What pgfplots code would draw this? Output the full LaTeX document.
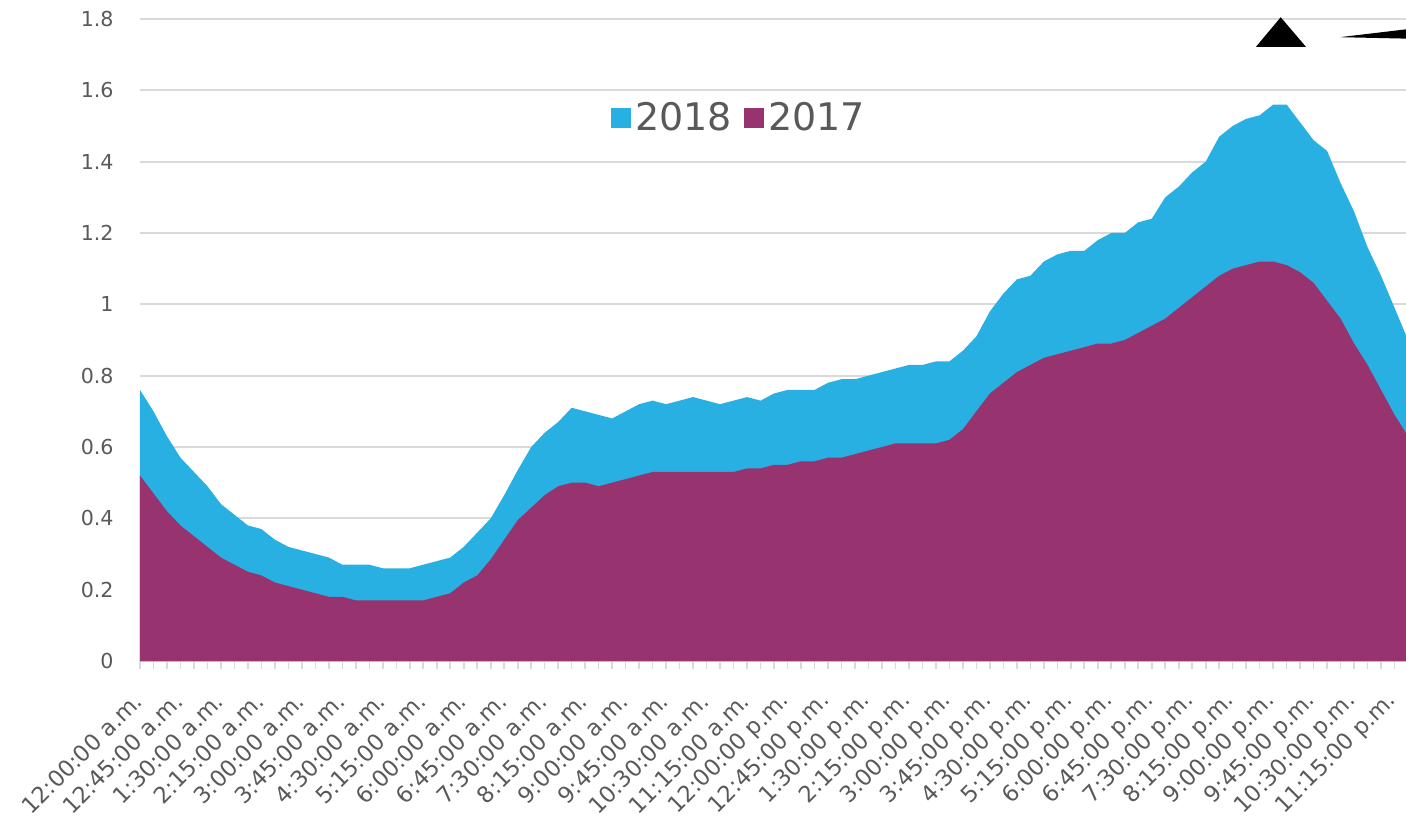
\documentclass[border=0pt]{standalone}
\usepackage{pgfplots}
\pgfplotsset{compat=1.18}
\usepackage{fontspec}
\setmainfont{DejaVu Sans}
\definecolor{cblue}{HTML}{29B0E2}
\definecolor{cpurple}{HTML}{97336E}
\definecolor{cgrid}{HTML}{D9D9D9}
\definecolor{ctext}{HTML}{595959}
\begin{document}
\begin{tikzpicture}
\begin{axis}[
  at={(0,0)}, anchor=south west,
  scale only axis, width=633pt, height=321pt,
  xmin=0, xmax=93.85, ymin=0, ymax=1.8,
  clip mode=individual,
  axis x line*=bottom, axis y line*=left,
  x axis line style={cgrid, line width=1pt},
  y axis line style={draw=none},
  ytick={0,0.2,0.4,0.6,0.8,1,1.2,1.4,1.6,1.8},
  ytick style={draw=none},
  ymajorgrids, grid style={cgrid, line width=1pt},
  /pgf/number format/assume math mode=true,
  yticklabel style={font=\fontsize{10.3}{12}\selectfont, text=ctext, anchor=east, inner sep=0pt, xshift=-9pt},
  xtick={0,3,...,93},
  minor xtick={0,1,...,93},
  tick align=outside,
  major tick length=4pt, minor tick length=4pt,
  xtick style={cgrid, line width=0.8pt},
  minor tick style={cgrid, line width=0.8pt},
  xticklabels={{12:00:00 a.m.},{12:45:00 a.m.},{1:30:00 a.m.},{2:15:00 a.m.},{3:00:00 a.m.},{3:45:00 a.m.},{4:30:00 a.m.},{5:15:00 a.m.},{6:00:00 a.m.},{6:45:00 a.m.},{7:30:00 a.m.},{8:15:00 a.m.},{9:00:00 a.m.},{9:45:00 a.m.},{10:30:00 a.m.},{11:15:00 a.m.},{12:00:00 p.m.},{12:45:00 p.m.},{1:30:00 p.m.},{2:15:00 p.m.},{3:00:00 p.m.},{3:45:00 p.m.},{4:30:00 p.m.},{5:15:00 p.m.},{6:00:00 p.m.},{6:45:00 p.m.},{7:30:00 p.m.},{8:15:00 p.m.},{9:00:00 p.m.},{9:45:00 p.m.},{10:30:00 p.m.},{11:15:00 p.m.}},
  xticklabel style={xshift=-0.8pt, yshift=-14pt, rotate=45, anchor=east, inner sep=0pt, font=\fontsize{11.3}{13}\selectfont, text=ctext},
  legend style={at={(0.474,0.846)}, anchor=center, draw=none, fill=none,
    font=\fontsize{19}{22}\selectfont, text=ctext, legend columns=2,
    /tikz/every even column/.append style={column sep=4pt},
    nodes={inner sep=2pt}},
  legend image code/.code={\fill[#1] (-2pt,-5pt) rectangle (8pt,5pt);},
]
\addplot[fill=cblue, draw=none] coordinates {
(0,0.76)(1,0.70)(2,0.63)(3,0.57)(4,0.53)(5,0.49)(6,0.44)(7,0.41)(8,0.38)(9,0.37)
(10,0.34)(11,0.32)(12,0.31)(13,0.30)(14,0.29)(15,0.27)(16,0.27)(17,0.27)(18,0.26)(19,0.26)
(20,0.26)(21,0.27)(22,0.28)(23,0.29)(24,0.32)(25,0.36)(26,0.40)(27,0.465)(28,0.535)(29,0.60)
(30,0.64)(31,0.67)(32,0.71)(33,0.70)(34,0.69)(35,0.68)(36,0.70)(37,0.72)(38,0.73)(39,0.72)
(40,0.73)(41,0.74)(42,0.73)(43,0.72)(44,0.73)(45,0.74)(46,0.73)(47,0.75)(48,0.76)(49,0.76)
(50,0.76)(51,0.78)(52,0.79)(53,0.79)(54,0.80)(55,0.81)(56,0.82)(57,0.83)(58,0.83)(59,0.84)
(60,0.84)(61,0.87)(62,0.91)(63,0.98)(64,1.03)(65,1.07)(66,1.08)(67,1.12)(68,1.14)(69,1.15)
(70,1.15)(71,1.18)(72,1.20)(73,1.20)(74,1.23)(75,1.24)(76,1.30)(77,1.33)(78,1.37)(79,1.40)
(80,1.47)(81,1.50)(82,1.52)(83,1.53)(84,1.56)(85,1.56)(86,1.51)(87,1.46)(88,1.43)(89,1.34)
(90,1.26)(91,1.16)(92,1.08)(93,0.99)(94,0.90)
} \closedcycle;
\addlegendentry{2018}
\addplot[fill=cpurple, draw=none] coordinates {
(0,0.52)(1,0.47)(2,0.42)(3,0.38)(4,0.35)(5,0.32)(6,0.29)(7,0.27)(8,0.25)(9,0.24)
(10,0.22)(11,0.21)(12,0.20)(13,0.19)(14,0.18)(15,0.18)(16,0.17)(17,0.17)(18,0.17)(19,0.17)
(20,0.17)(21,0.17)(22,0.18)(23,0.19)(24,0.22)(25,0.24)(26,0.285)(27,0.34)(28,0.395)(29,0.43)
(30,0.465)(31,0.49)(32,0.50)(33,0.50)(34,0.49)(35,0.50)(36,0.51)(37,0.52)(38,0.53)(39,0.53)
(40,0.53)(41,0.53)(42,0.53)(43,0.53)(44,0.53)(45,0.54)(46,0.54)(47,0.55)(48,0.55)(49,0.56)
(50,0.56)(51,0.57)(52,0.57)(53,0.58)(54,0.59)(55,0.60)(56,0.61)(57,0.61)(58,0.61)(59,0.61)
(60,0.62)(61,0.65)(62,0.70)(63,0.75)(64,0.78)(65,0.81)(66,0.83)(67,0.85)(68,0.86)(69,0.87)
(70,0.88)(71,0.89)(72,0.89)(73,0.90)(74,0.92)(75,0.94)(76,0.96)(77,0.99)(78,1.02)(79,1.05)
(80,1.08)(81,1.10)(82,1.11)(83,1.12)(84,1.12)(85,1.11)(86,1.09)(87,1.06)(88,1.01)(89,0.96)
(90,0.89)(91,0.83)(92,0.76)(93,0.69)(94,0.63)
} \closedcycle;
\addlegendentry{2017}
% decorative shapes at the top right of the reference
\fill[black] (axis cs:82.73,1.722) -- (axis cs:84.56,1.805) -- (axis cs:86.43,1.722) -- cycle;
\fill[black] (axis cs:88.95,1.749) -- (axis cs:93.85,1.771) -- (axis cs:93.85,1.745) -- cycle;
\end{axis}
\pgfresetboundingbox
\path[use as bounding box] (-70pt,-78.5pt) rectangle (633pt,330.5pt);
\end{tikzpicture}
\end{document}
